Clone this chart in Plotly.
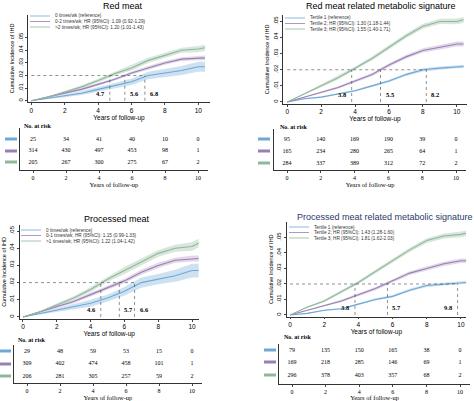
import plotly.graph_objects as go

W, H = 474, 401
G = [0, 1, 2, 3, 4, 5, 6, 7, 8, 9, 10, 10.4]

# ---- data ----
tl_names = ["0 times/wk (reference)", "0-2 times/wk; HR (95%CI): 1.09 (0.92-1.29)", ">2 times/wk; HR (95%CI): 1.20 (1.01-1.43)"]
tl_blue = [0, .002, .004, .006, .009, .012, .015, .020, .022, .024, .027, .027]
tl_purple = [0, .003, .006, .009, .013, .017, .022, .026, .030, .033, .034, .034]
tl_green = [0, .003, .007, .011, .016, .0215, .026, .032, .036, .040, .041, .042]
tl_hw_blue = [0, .0008, .0012, .0015, .002, .002, .0025, .003, .003, .0035, .004, .004]
tl_hw_purple = [0, .0005, .0007, .001, .001, .001, .0012, .0015, .0015, .0015, .0018, .0018]
tl_hw_green = [0, .0005, .001, .001, .0015, .0015, .002, .002, .002, .002, .0025, .0025]
tl_medians = [4.7, 5.6, 6.8]
tl_risk = [[25, 34, 41, 40, 10, 0], [314, 430, 497, 453, 98, 1], [205, 267, 300, 275, 67, 2]]

tr_names = ["Tertile 1 (reference)", "Tertile 2; HR (95%CI): 1.30 (1.18-1.44)", "Tertile 3; HR (95%CI): 1.55 (1.40-1.71)"]
tr_blue = [0, .002, .003, .005, .007, .010, .013, .017, .020, .021, .022, .022]
tr_purple = [0, .003, .006, .009, .013, .017, .023, .028, .032, .034, .036, .036]
tr_green = [0, .005, .010, .015, .021, .027, .034, .041, .047, .050, .050, .051]
tr_hw_blue = [0, .0003, .0004, .0005, .0006, .0007, .0008, .0009, .001, .001, .0011, .0011]
tr_hw_purple = [0, .0004, .0006, .0008, .001, .001, .0011, .0012, .0013, .0014, .0015, .0015]
tr_hw_green = [0, .0005, .0008, .001, .001, .0012, .0012, .0014, .0015, .0016, .0018, .0018]
tr_medians = [3.8, 5.5, 8.2]
tr_risk = [[95, 140, 169, 190, 39, 0], [165, 234, 280, 265, 64, 1], [284, 337, 389, 312, 72, 2]]

bl_names = ["0 times/wk (reference)", "0-1 times/wk; HR (95%CI): 1.15 (0.99-1.33)", ">1 times/wk; HR (95%CI): 1.22 (1.04-1.42)"]
bl_blue = [0, .002, .004, .006, .008, .011, .015, .020, .022, .024, .027, .027]
bl_purple = [0, .003, .006, .009, .013, .017, .021, .026, .030, .033, .034, .034]
bl_green = [0, .003, .007, .011, .016, .022, .027, .032, .037, .040, .041, .043]
bl_hw_blue = [0, .0008, .0012, .0015, .002, .002, .0025, .003, .003, .0035, .004, .004]
bl_hw_purple = [0, .0005, .0007, .001, .001, .001, .0012, .0015, .0015, .0015, .0018, .0018]
bl_hw_green = [0, .0005, .001, .001, .0015, .0015, .002, .002, .002, .002, .0025, .0025]
bl_medians = [4.6, 5.7, 6.6]
bl_risk = [[29, 48, 59, 53, 15, 0], [309, 402, 474, 458, 101, 1], [206, 281, 305, 257, 59, 2]]

br_names = ["Tertile 1 (reference)", "Tertile 2; HR (95%CI): 1.43 (1.28-1.60)", "Tertile 3; HR (95%CI): 1.81 (1.62-2.03)"]
br_blue = [0, .001, .003, .004, .007, .010, .012, .016, .019, .020, .021, .021]
br_purple = [0, .003, .006, .009, .013, .017, .022, .027, .030, .033, .035, .035]
br_green = [0, .005, .009, .015, .021, .028, .035, .042, .048, .051, .052, .053]
br_hw_blue = [0, .0003, .0004, .0005, .0006, .0007, .0008, .0009, .001, .001, .0011, .0011]
br_hw_purple = [0, .0004, .0006, .0008, .001, .001, .0011, .0012, .0013, .0014, .0015, .0015]
br_hw_green = [0, .0005, .0008, .001, .001, .0012, .0012, .0014, .0015, .0016, .0018, .0018]
br_medians = [3.8, 5.7, 9.8]
br_risk = [[79, 135, 150, 165, 38, 0], [169, 218, 285, 146, 69, 1], [296, 378, 403, 357, 68, 2]]

risk_x = [0, 2, 4, 6, 8, 10]
yticks = [0, .01, .02, .03, .04, .05]
yticktext = ["0", ".01", ".02", ".03", ".04", ".05"]
titles = ["Red meat", "Red meat related metabolic signature", "Processed meat", "Processed meat related metabolic signature"]

COLORS = ["#6fa8d6", "#9a7fb5", "#8fb89a"]
BANDS = ["rgba(111,168,214,0.35)", "rgba(154,127,181,0.3)", "rgba(143,184,154,0.35)"]
SERIF = "Liberation Serif"
SANS = "Liberation Sans"

panels = [
    dict(names=tl_names, ys=[tl_blue, tl_purple, tl_green], hw=[tl_hw_blue, tl_hw_purple, tl_hw_green], med=tl_medians, risk=tl_risk,
         px=(28, 210), xr=[-0.2, 10.7], py=(15, 102), yr=[-0.001, 0.068], title_y=6, title_x=123, tcol="black",
         tab=dict(left=20, x0=33, x10=198, rows=(139, 151, 162), axis=170, top=128, lab=(22, 126), mk=(5, 17)),
         leg=(30, 16), lab_side=[-1, 1, 1]),
    dict(names=tr_names, ys=[tr_blue, tr_purple, tr_green], hw=[tr_hw_blue, tr_hw_purple, tr_hw_green], med=tr_medians, risk=tr_risk,
         px=(283, 467), xr=[-0.25, 10.6], py=(15, 103.6), yr=[-0.001, 0.054], title_y=6, title_x=381, tcol="black",
         tab=dict(left=274, x0=287, x10=456, rows=(139, 151, 163), axis=170, top=129, lab=(278, 127), mk=(258, 270)),
         leg=(285, 18), lab_side=[-1, 1, 1]),
    dict(names=bl_names, ys=[bl_blue, bl_purple, bl_green], hw=[bl_hw_blue, bl_hw_purple, bl_hw_green], med=bl_medians, risk=bl_risk,
         px=(19.6, 198.8), xr=[-0.2, 10.4], py=(225, 318.7), yr=[-0.001, 0.0535], title_y=219, title_x=117, tcol="black",
         tab=dict(left=14, x0=27, x10=192, rows=(351, 364, 376), axis=383, top=345, lab=(16, 340), mk=(0, 11)),
         leg=(21, 230), lab_side=[-1, 1, 1]),
    dict(names=br_names, ys=[br_blue, br_purple, br_green], hw=[br_hw_blue, br_hw_purple, br_hw_green], med=br_medians, risk=br_risk,
         px=(286.6, 466.1), xr=[-0.2, 10.3], py=(222, 316.5), yr=[-0.001, 0.06], title_y=217, title_x=385, tcol="#2b3a67",
         tab=dict(left=279, x0=292, x10=460, rows=(350, 362, 375), axis=384, top=344, lab=(282, 337), mk=(264, 276)),
         leg=(289, 227), lab_side=[-1, 1, -1]),
]

def fx(p): return p / W
def fy(p): return 1 - p / H

fig = go.Figure()
layout = dict(width=W, height=H, margin=dict(l=0, r=0, t=0, b=0), paper_bgcolor="white", plot_bgcolor="white",
              showlegend=False, font=dict(family=SANS, size=6, color="black"))
shapes, annotations = [], []

for i, P in enumerate(panels):
    ax = 2 * i + 1
    tx = 2 * i + 2
    xa, ya = f"x{ax}", f"y{ax}"
    xt, yt = f"x{tx}", f"y{tx}"
    for s in range(3):
        up = [v + h for v, h in zip(P["ys"][s], P["hw"][s])]
        lo = [v - h for v, h in zip(P["ys"][s], P["hw"][s])]
        fig.add_trace(go.Scatter(x=G + G[::-1], y=up + lo[::-1], fill="toself", fillcolor=BANDS[s],
                                 line=dict(width=0), hoverinfo="skip", xaxis=xa, yaxis=ya))
    for s in range(3):
        fig.add_trace(go.Scatter(x=G, y=P["ys"][s], mode="lines", line=dict(color=COLORS[s], width=1.1),
                                 name=P["names"][s], xaxis=xa, yaxis=ya))
        lx, ly = P["leg"]
        yy = ly + 5.5 * s
        shapes.append(dict(type="line", xref="paper", yref="paper", x0=fx(lx), x1=fx(lx + 20),
                           y0=fy(yy), y1=fy(yy), line=dict(color=COLORS[s], width=0.8)))
        annotations.append(dict(x=fx(lx + 23), y=fy(yy), xref="paper", yref="paper", text=P["names"][s],
                                showarrow=False, xanchor="left", yanchor="middle", font=dict(size=4.7, color="#333")))
    mmax = max(P["med"])
    shapes.append(dict(type="line", xref=xa, yref=ya, x0=0, x1=mmax, y0=0.02, y1=0.02,
                       line=dict(color="#444", width=0.6, dash="dot")))
    for k, m in enumerate(P["med"]):
        shapes.append(dict(type="line", xref=xa, yref=ya, x0=m, x1=m, y0=0, y1=0.02,
                           line=dict(color="#444", width=0.6, dash="dot")))
        side = P["lab_side"][k]
        annotations.append(dict(x=m, y=0.0012, xref=xa, yref=ya, text=f"<b>{m}</b>", showarrow=False,
                                xanchor="right" if side < 0 else "left", xshift=-3 if side < 0 else 3,
                                yanchor="bottom", font=dict(family=SERIF, size=6.5)))
    layout[f"xaxis{ax}"] = dict(domain=[fx(P["px"][0]), fx(P["px"][1])], range=P["xr"], anchor=ya,
                                tickvals=[0, 2, 4, 6, 8, 10], ticks="outside", ticklen=2, showline=True, linecolor="#333",
                                linewidth=0.8, showgrid=False, zeroline=False, tickfont=dict(size=6.5),
                                title=dict(text="Years of follow-up", font=dict(size=6.5), standoff=0))
    layout[f"yaxis{ax}"] = dict(domain=[fy(P["py"][1]), fy(P["py"][0])], range=P["yr"], anchor=xa,
                                tickvals=yticks, ticktext=yticktext, tickangle=-90, ticks="outside", ticklen=2,
                                showline=True, linecolor="#333", linewidth=0.8, showgrid=False, zeroline=False,
                                tickfont=dict(size=6), title=dict(text="Cumulative Incidence of IHD", font=dict(size=5.5), standoff=2))
    annotations.append(dict(x=fx(P["title_x"]), y=fy(P["title_y"]), xref="paper", yref="paper", text=titles[i],
                            showarrow=False, xanchor="center", yanchor="middle", font=dict(size=9, color=P["tcol"])))
    T = P["tab"]
    u = (T["x10"] - T["x0"]) / 10
    rmin = (T["left"] - T["x0"]) / u
    v = (T["rows"][2] - T["rows"][0]) / 2
    ymin = 1 - (T["axis"] - T["rows"][2]) / v
    ymax = 3 + (T["rows"][0] - T["top"]) / v
    layout[f"xaxis{tx}"] = dict(domain=[fx(T["left"]), fx(T["x0"] + 10.6 * u)], range=[rmin, 10.6], anchor=yt,
                                tickvals=[0, 2, 4, 6, 8, 10], ticks="outside", ticklen=2, showline=True, linecolor="#333",
                                linewidth=0.8, showgrid=False, zeroline=False, tickfont=dict(family=SERIF, size=6),
                                title=dict(text="Years of follow-up", font=dict(family=SERIF, size=6.5), standoff=0))
    layout[f"yaxis{tx}"] = dict(domain=[fy(T["axis"]), fy(T["top"])], range=[ymin, ymax], anchor=xt,
                                showticklabels=False, showline=True, linecolor="#333", linewidth=0.8,
                                showgrid=False, zeroline=False, ticks="")
    for s in range(3):
        fig.add_trace(go.Scatter(x=risk_x, y=[3 - s] * len(risk_x), mode="text", text=[str(n) for n in P["risk"][s]],
                                 textfont=dict(family=SERIF, size=6), hoverinfo="skip", xaxis=xt, yaxis=yt))
        ry = T["rows"][s]
        shapes.append(dict(type="line", xref="paper", yref="paper", x0=fx(T["mk"][0]), x1=fx(T["mk"][1]),
                           y0=fy(ry), y1=fy(ry), line=dict(color=COLORS[s], width=3)))
    annotations.append(dict(x=fx(T["lab"][0]), y=fy(T["lab"][1]), xref="paper", yref="paper", text="<b>No. at risk</b>",
                            showarrow=False, xanchor="left", yanchor="middle", font=dict(family=SERIF, size=6)))

layout["shapes"] = shapes
layout["annotations"] = annotations
fig.update_layout(**layout)
fig.write_html("out.html", config={"displayModeBar": False})
with open("out.html", encoding="utf-8") as f:
    html = f.read()
html = html.replace("<body>", '<body style="margin:0;overflow:hidden">', 1)
with open("out.html", "w", encoding="utf-8") as f:
    f.write(html)
